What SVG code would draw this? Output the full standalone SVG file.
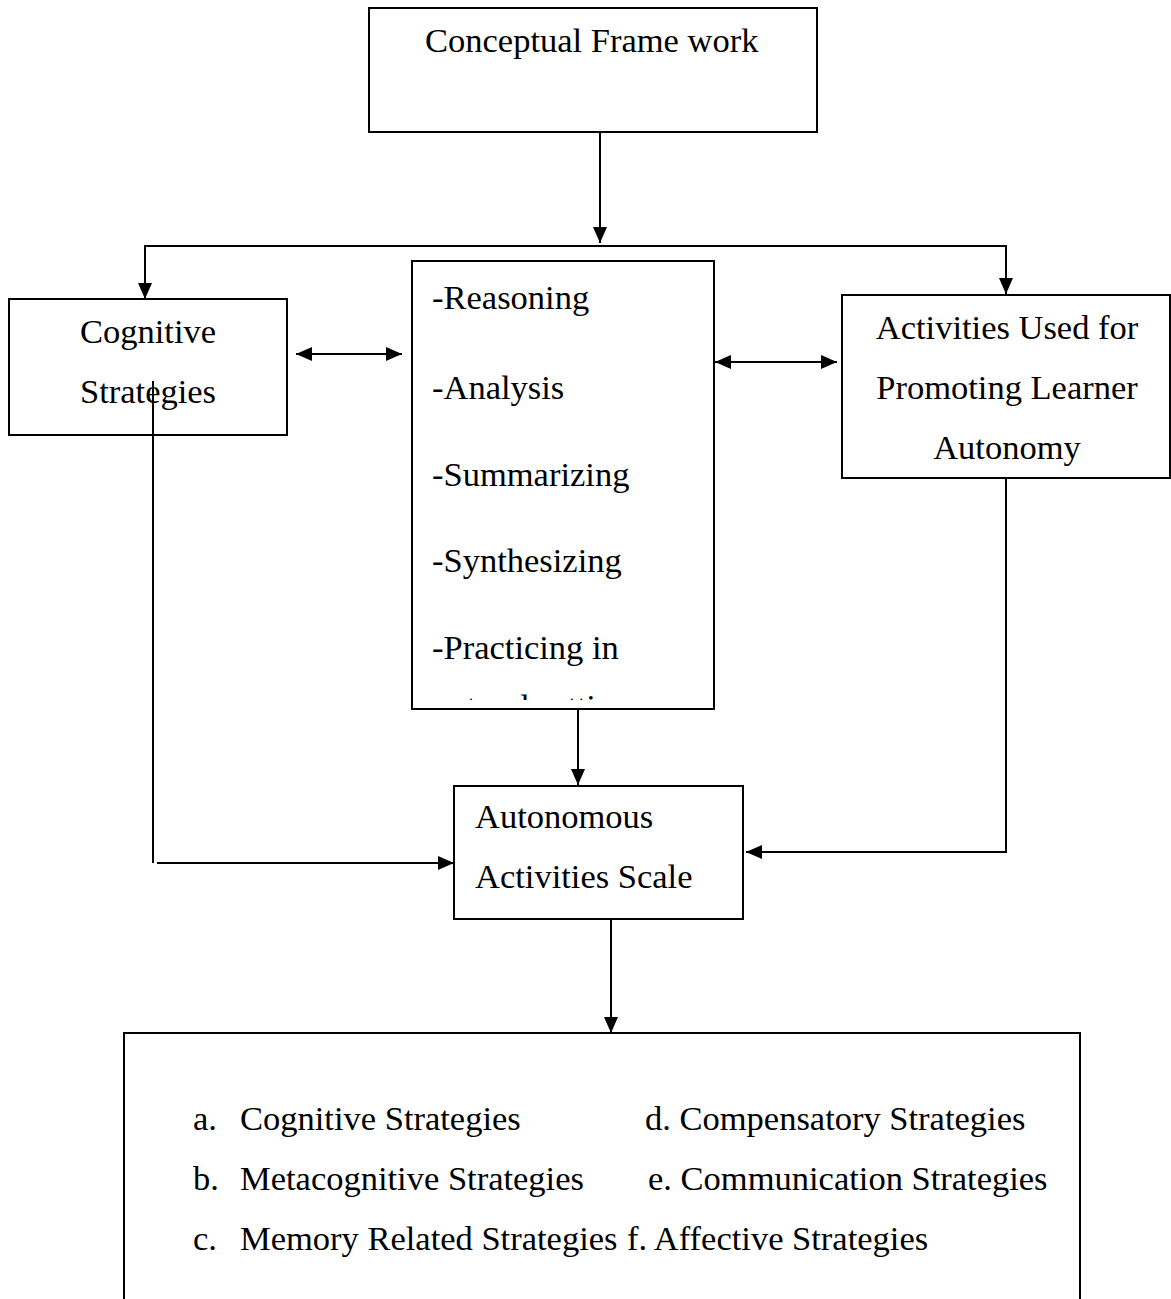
<svg xmlns="http://www.w3.org/2000/svg" width="1171" height="1299" viewBox="0 0 1171 1299">
<style>
  .box { fill: #fff; stroke: #000; stroke-width: 2; }
  .t { font-family: "Liberation Serif", "Times New Roman", serif; font-size: 34.5px; fill: #000; }
  .c { text-anchor: middle; }
  .ln { fill: none; stroke: #000; stroke-width: 2; }
</style>
<defs>
  <marker id="ah" viewBox="0 0 16 14" refX="16" refY="7" markerWidth="16" markerHeight="14" markerUnits="userSpaceOnUse" orient="auto-start-reverse">
    <path d="M0,0 L16,7 L0,14 Z" fill="#000"/>
  </marker>
  <clipPath id="midclip"><rect x="413" y="262" width="300" height="438"/></clipPath>
</defs>
<rect width="1171" height="1299" fill="#fff"/>

<g id="conceptual">
  <rect class="box" x="369" y="8" width="448" height="124"/>
  <text class="t" x="425" y="52">Conceptual Frame work</text>
</g>

<g id="cognitive">
  <rect class="box" x="9" y="299" width="278" height="136"/>
  <text class="t c" x="148" y="343">Cognitive</text>
  <text class="t c" x="148" y="403">Strategies</text>
</g>

<g id="middle">
  <rect class="box" x="412" y="261" width="302" height="448"/>
  <g clip-path="url(#midclip)">
    <text class="t" x="432" y="309">-Reasoning</text>
    <text class="t" x="432" y="399">-Analysis</text>
    <text class="t" x="432" y="486">-Summarizing</text>
    <text class="t" x="432" y="572">-Synthesizing</text>
    <text class="t" x="432" y="659">-Practicing in</text>
    <text class="t" x="434" y="718">natural settings</text>
  </g>
</g>

<g id="activities">
  <rect class="box" x="842" y="295" width="328" height="183"/>
  <text class="t c" x="1007" y="339">Activities Used for</text>
  <text class="t c" x="1007" y="399">Promoting Learner</text>
  <text class="t c" x="1007" y="459">Autonomy</text>
</g>

<g id="scale">
  <rect class="box" x="454" y="786" width="289" height="133"/>
  <text class="t" x="475" y="828">Autonomous</text>
  <text class="t" x="475" y="888">Activities Scale</text>
</g>

<g id="strategies">
  <rect class="box" x="124" y="1033" width="956" height="300"/>
  <text class="t" x="193" y="1130">a.</text>
  <text class="t" x="240" y="1130">Cognitive Strategies</text>
  <text class="t" x="645" y="1130">d. Compensatory Strategies</text>
  <text class="t" x="193" y="1190">b.</text>
  <text class="t" x="240" y="1190">Metacognitive Strategies</text>
  <text class="t" x="648" y="1190">e. Communication Strategies</text>
  <text class="t" x="193" y="1250">c.</text>
  <text class="t" x="240" y="1250">Memory Related Strategies</text>
  <text class="t" x="627" y="1250">f. Affective Strategies</text>
</g>

<g id="connectors">
  <path class="ln" d="M600,133 V243" marker-end="url(#ah)"/>
  <path class="ln" d="M145,246 H1006"/>
  <path class="ln" d="M145,245 V299" marker-end="url(#ah)"/>
  <path class="ln" d="M1006,245 V294" marker-end="url(#ah)"/>
  <path class="ln" d="M296,354 H402" marker-start="url(#ah)" marker-end="url(#ah)"/>
  <path class="ln" d="M715,362 H837" marker-start="url(#ah)" marker-end="url(#ah)"/>
  <path class="ln" d="M578,710 V785" marker-end="url(#ah)"/>
  <path class="ln" d="M153,381 V863"/>
  <path class="ln" d="M157,863 H454" marker-end="url(#ah)"/>
  <path class="ln" d="M1006,479 V852 H746" marker-end="url(#ah)"/>
  <path class="ln" d="M611,920 V1033" marker-end="url(#ah)"/>
</g>
</svg>
